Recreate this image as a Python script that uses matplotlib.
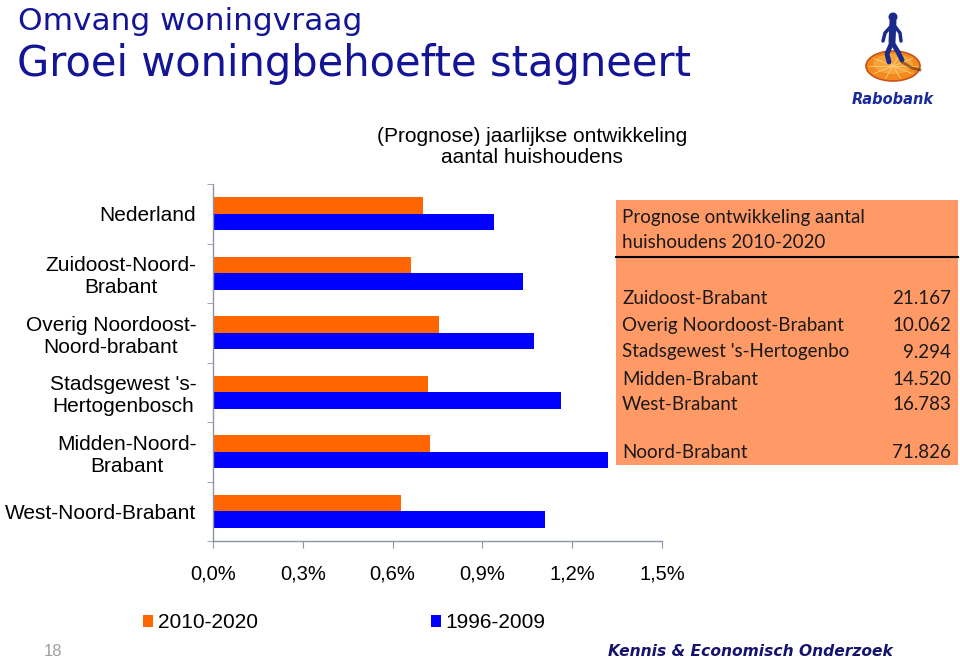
import numpy as np
import matplotlib
matplotlib.use("Agg")
import matplotlib.pyplot as plt
import matplotlib.patches as mpatches
from matplotlib.ticker import FuncFormatter

# data (% per year)
regions = ["Nederland", "Zuidoost-Noord-\nBrabant", "Overig Noordoost-\nNoord-brabant",
           "Stadsgewest 's-\nHertogenbosch", "Midden-Noord-\nBrabant", "West-Noord-Brabant"]
prog_2010_2020 = [0.70, 0.66, 0.755, 0.717, 0.724, 0.628]
hist_1996_2009 = [0.938, 1.034, 1.074, 1.163, 1.321, 1.109]
xticks = [0.0, 0.3, 0.6, 0.9, 1.2, 1.5]

box_names = ["Zuidoost-Brabant", "Overig Noordoost-Brabant", "Stadsgewest 's-Hertogenbo",
             "Midden-Brabant", "West-Brabant"]
box_values = ["21.167", "10.062", "9.294", "14.520", "16.783"]
box_total = ("Noord-Brabant", "71.826")

W, H = 960, 661
fig = plt.figure(figsize=(9.6, 6.61), dpi=100)
plt.rcParams["font.family"] = ["Liberation Sans", "DejaVu Sans"]

def fx(px):
    return px / W

def fy(py):
    return 1 - py / H

navy = "#141496"
orange = "#FF6600"
blue = "#0000FF"

# titles
fig.text(fx(18), fy(21), "Omvang woningvraag", fontsize=22.5, color=navy,
         family="DejaVu Sans", va="center", ha="left")
fig.text(fx(17), fy(64), "Groei woningbehoefte stagneert", fontsize=30, color=navy,
         family="DejaVu Sans", va="center", ha="left")
fig.text(fx(532), fy(147), "(Prognose) jaarlijkse ontwikkeling\naantal huishoudens",
         fontsize=15, ha="center", va="center", linespacing=1.15)

# main bar chart
ax = fig.add_axes([fx(213), fy(541), fx(662) - fx(213), fy(184) - fy(541)])
y = np.arange(len(regions))
h = 0.28
ax.barh(y - h / 2, prog_2010_2020, height=h, color=orange, label="2010-2020")
ax.barh(y + h / 2, hist_1996_2009, height=h, color=blue, label="1996-2009")
ax.set_xlim(0, 1.5)
ax.set_ylim(len(regions) - 0.5, -0.5)
ax.set_xticks(xticks)
ax.xaxis.set_major_formatter(FuncFormatter(lambda v, p: ("%.1f%%" % v).replace(".", ",")))
ax.set_yticks(y)
ax.set_yticklabels(regions)
ax.set_yticks(np.arange(len(regions) + 1) - 0.5, minor=True)
for t in ax.get_yticklabels():
    t.set_multialignment("center")
for s in ["top", "right"]:
    ax.spines[s].set_visible(False)
for s in ["left", "bottom"]:
    ax.spines[s].set_color("#8e94a8")
    ax.spines[s].set_linewidth(1.0)
ax.tick_params(axis="y", which="major", length=0, pad=12, labelsize=15)
ax.tick_params(axis="y", which="minor", length=4, color="#8e94a8")
ax.tick_params(axis="x", length=5, color="#8e94a8", pad=12, labelsize=14.5)

# legend
fig.legend(loc="center left", bbox_to_anchor=(fx(143), fy(623)), ncol=2, frameon=False,
           fontsize=15, handlelength=0.5, handleheight=0.5, handletextpad=0.2,
           columnspacing=8.3, borderpad=0, borderaxespad=0)

# info box
box = mpatches.Rectangle((fx(616), fy(465)), fx(958) - fx(616), fy(200) - fy(465),
                         transform=fig.transFigure, facecolor="#FF9966", edgecolor="none",
                         zorder=5)
fig.add_artist(box)
fig.add_artist(plt.Line2D([fx(616), fx(958)], [fy(257), fy(257)], transform=fig.transFigure,
                          color="black", linewidth=1.5, zorder=6))
bfont = dict(fontsize=13.5, family=["Lato", "DejaVu Sans"], color="#1a1a1a", zorder=7, va="center")
fig.text(fx(622), fy(217), "Prognose ontwikkeling aantal", ha="left", **bfont)
fig.text(fx(622), fy(243), "huishoudens 2010-2020", ha="left", **bfont)
rows_y = [299, 326, 352, 379, 405]
for name, val, yy in zip(box_names, box_values, rows_y):
    fig.text(fx(622), fy(yy), name, ha="left", **bfont)
    fig.text(fx(951), fy(yy), val, ha="right", **bfont)
fig.text(fx(622), fy(453), box_total[0], ha="left", **bfont)
fig.text(fx(951), fy(453), box_total[1], ha="right", **bfont)

# logo (simplified)
lax = fig.add_axes([fx(850), fy(112), fx(90), fy(0) - fy(112)])
lax.set_xlim(0, 90)
lax.set_ylim(112, 0)
lax.axis("off")
lax.add_patch(mpatches.Ellipse((43, 66), 54, 30, facecolor="#F28A1E", edgecolor="#C8501A", lw=1.2))
lax.add_patch(mpatches.Ellipse((43, 64), 40, 20, facecolor="#F7A23A", edgecolor="none"))
for a in np.linspace(0, 2 * np.pi, 10, endpoint=False):
    lax.plot([43, 43 + 24 * np.cos(a)], [66, 66 + 13 * np.sin(a)], color="#FFD07A", lw=0.6)
lax.add_patch(mpatches.Circle((43, 17), 3.8, color="#1a2a8c"))
lax.plot([43, 42], [21, 42], color="#1a2a8c", lw=5, solid_capstyle="round")
lax.plot([42, 37, 39], [42, 54, 62], color="#1a2a8c", lw=3.5, solid_capstyle="round")
lax.plot([42, 48, 52], [42, 52, 60], color="#1a2a8c", lw=3.5, solid_capstyle="round")
lax.plot([43, 35, 33], [24, 33, 41], color="#1a2a8c", lw=2.5, solid_capstyle="round")
lax.plot([43, 50, 51], [24, 33, 41], color="#1a2a8c", lw=2.5, solid_capstyle="round")
lax.plot([52, 62, 70], [62, 68, 70], color="#5a3010", lw=2, alpha=0.6)
lax.text(43, 100, "Rabobank", ha="center", va="center", fontsize=10.5, fontweight="bold",
         fontstyle="italic", color="#1a2a9c", family="DejaVu Sans")

# footer
fig.text(fx(53), fy(652), "18", fontsize=12, color="#a0a0a0", ha="center", va="center")
fig.text(fx(893), fy(651), "Kennis & Economisch Onderzoek", fontsize=11.2, color="#14146e",
         ha="right", va="center", family="DejaVu Sans", fontweight="bold", fontstyle="italic")

fig.savefig("out.png", dpi=100)
